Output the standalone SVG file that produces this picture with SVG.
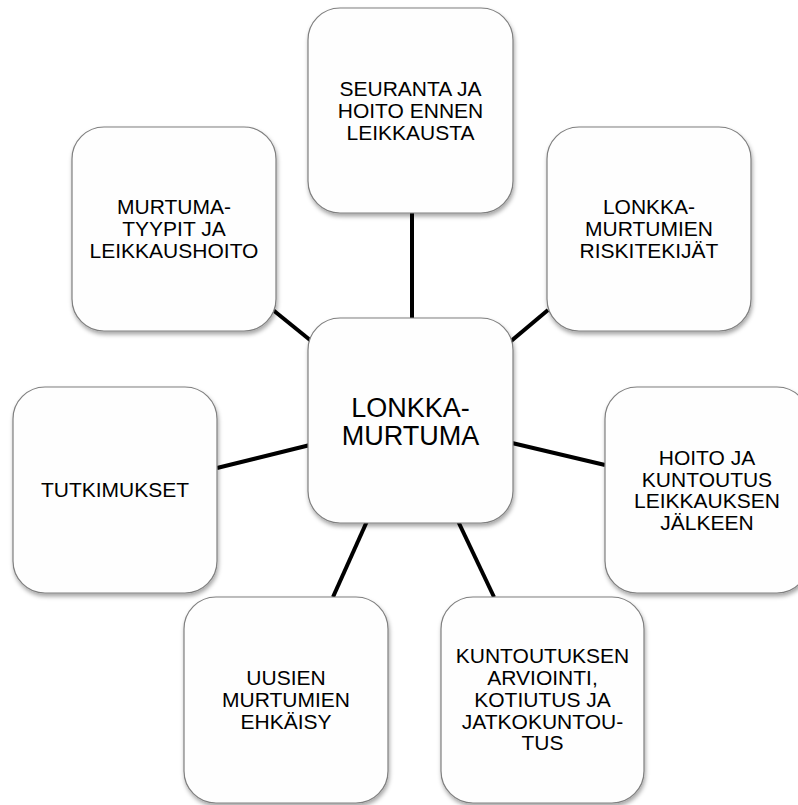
<svg xmlns="http://www.w3.org/2000/svg" width="798" height="805" viewBox="0 0 798 805">
<defs>
<filter id="sh" x="-10%" y="-10%" width="130%" height="130%">
<feDropShadow dx="1" dy="3" stdDeviation="2" flood-color="#000" flood-opacity="0.35"/>
</filter>
<style>
.box{fill:#fefefe;stroke:#7f7f7f;stroke-width:1.2;filter:url(#sh)}
.lbl{font-family:"Liberation Sans",Arial,sans-serif;font-size:21px;fill:#000;text-anchor:middle}
.big{font-size:27px}
.conn{stroke:#000;stroke-width:4;fill:none;stroke-linecap:butt}
</style>
</defs>
<rect width="798" height="805" fill="#fff"/>
<g id="connectors">
<line class="conn" x1="412" y1="213" x2="412" y2="318"/>
<line class="conn" x1="273" y1="310" x2="331" y2="357"/>
<line class="conn" x1="548" y1="310" x2="492" y2="357"/>
<line class="conn" x1="512" y1="443" x2="605" y2="465"/>
<line class="conn" x1="217" y1="468" x2="310" y2="445"/>
<line class="conn" x1="368" y1="519" x2="333" y2="597"/>
<line class="conn" x1="457" y1="519" x2="494" y2="597"/>
</g>
<g id="node-seuranta">
<rect class="box" x="308" y="8" width="205" height="205" rx="32"/>
<text class="lbl" x="410.5" y="96">SEURANTA JA</text>
<text class="lbl" x="410.5" y="118">HOITO ENNEN</text>
<text class="lbl" x="410.5" y="140">LEIKKAUSTA</text>
</g>
<g id="node-murtumatyypit">
<rect class="box" x="72" y="127" width="204" height="204" rx="32"/>
<text class="lbl" x="174" y="214">MURTUMA-</text>
<text class="lbl" x="174" y="236">TYYPIT JA</text>
<text class="lbl" x="174" y="258">LEIKKAUSHOITO</text>
</g>
<g id="node-riskitekijat">
<rect class="box" x="547" y="127" width="204" height="204" rx="32"/>
<text class="lbl" x="649" y="214">LONKKA-</text>
<text class="lbl" x="649" y="236">MURTUMIEN</text>
<text class="lbl" x="649" y="258">RISKITEKIJÄT</text>
</g>
<g id="node-center">
<rect class="box" x="308" y="318" width="205" height="205" rx="32"/>
<text class="lbl big" x="410.5" y="417">LONKKA-</text>
<text class="lbl big" x="410.5" y="445">MURTUMA</text>
</g>
<g id="node-tutkimukset">
<rect class="box" x="13" y="387" width="204" height="206" rx="32"/>
<text class="lbl" x="115" y="497">TUTKIMUKSET</text>
</g>
<g id="node-hoito">
<rect class="box" x="605" y="387" width="204" height="206" rx="32"/>
<text class="lbl" x="707" y="465">HOITO JA</text>
<text class="lbl" x="707" y="486.5">KUNTOUTUS</text>
<text class="lbl" x="707" y="508">LEIKKAUKSEN</text>
<text class="lbl" x="707" y="530">JÄLKEEN</text>
</g>
<g id="node-uusien">
<rect class="box" x="184" y="597" width="204" height="206" rx="32"/>
<text class="lbl" x="286" y="685">UUSIEN</text>
<text class="lbl" x="286" y="707">MURTUMIEN</text>
<text class="lbl" x="286" y="729">EHKÄISY</text>
</g>
<g id="node-kuntoutuksen">
<rect class="box" x="441" y="597" width="203" height="206" rx="32"/>
<text class="lbl" x="542.5" y="663">KUNTOUTUKSEN</text>
<text class="lbl" x="542.5" y="685">ARVIOINTI,</text>
<text class="lbl" x="542.5" y="707">KOTIUTUS JA</text>
<text class="lbl" x="542.5" y="729">JATKOKUNTOU-</text>
<text class="lbl" x="542.5" y="750">TUS</text>
</g>
</svg>
